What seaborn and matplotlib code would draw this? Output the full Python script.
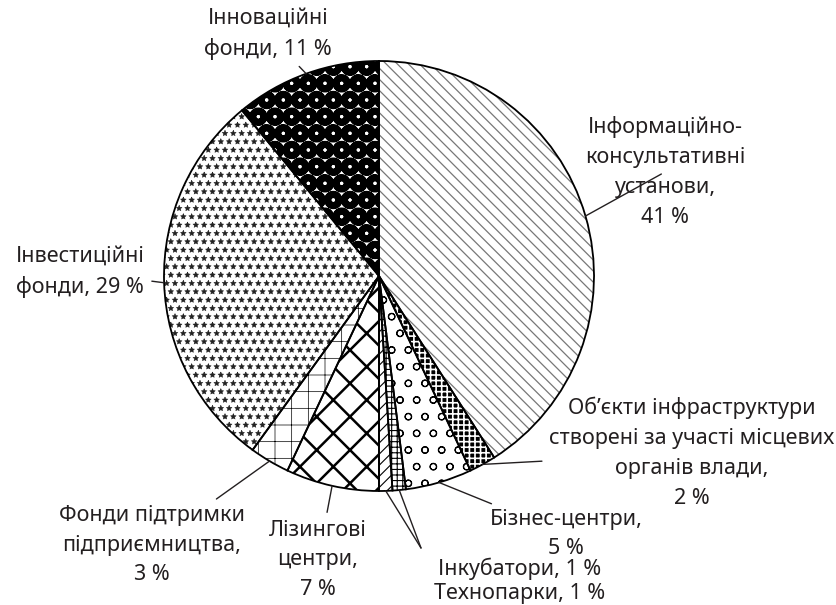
import numpy as np
import matplotlib
matplotlib.use("Agg")
import matplotlib.pyplot as plt
import seaborn as sns

# Pie data, clockwise from 12 o'clock
labels = [
    "Інформаційно-\nконсультативні\nустанови,\n41 %",
    "Об’єкти інфраструктури\nстворені за участі місцевих\nорганів влади,\n2 %",
    "Бізнес-центри,\n5 %",
    "Інкубатори, 1 %",
    "Технопарки, 1 %",
    "Лізингові\nцентри,\n7 %",
    "Фонди підтримки\nпідприємництва,\n3 %",
    "Інвестиційні\nфонди, 29 %",
    "Інноваційні\nфонди, 11 %",
]
shares = [41, 2, 5, 1, 1, 7, 3, 29, 11]

# Styling per slice: face, hatch colour, hatch pattern, hatch width
faces = ["white", "black", "white", "white", "white", "white", "white", "white", "white"]
hatch_cols = ["#777777", "white", "black", "black", "black", "black", "black", "#222222", "black"]
hatches = ["\\\\\\", "+++", "o", "+++", "///", "x", "+", "**", "O"]
hatch_lw = [0.9, 1.2, 0.8, 0.8, 0.8, 1.8, 0.5, 0.4, 4.8]

# label text positions (pixel coords, top-left origin)
text_xy = [(665, 172), (692, 453), (566, 534), (520, 569), (520, 593),
           (318, 560), (152, 545), (80, 272), (268, 34)]
# where the two 1 % leaders meet
join_xy = (421, 548)

sns.set_theme(style="white")
plt.rcParams["font.family"] = ["Noto Sans", "DejaVu Sans"]

W, H = 836, 605
fig = plt.figure(figsize=(W / 100, H / 100), dpi=100)
ax = fig.add_axes([0, 0, 1, 1])

cx, cy, r = 379, H - 276, 215

wedges, _ = ax.pie(shares, startangle=90, counterclock=False,
                   center=(cx, cy), radius=r, frame=True)
for w, fc, hc, h, lw in zip(wedges, faces, hatch_cols, hatches, hatch_lw):
    w.set_facecolor(fc)
    w.set_edgecolor(hc)
    w.set_linewidth(0)
    w.set_hatch(h)
    w.set_hatch_linewidth(lw)

# outlines on top
outl, _ = ax.pie(shares, startangle=90, counterclock=False, center=(cx, cy),
                 radius=r, frame=True,
                 wedgeprops=dict(fill=False, edgecolor="black", linewidth=1.3))

ax.set_xlim(0, W)
ax.set_ylim(0, H)
ax.set_aspect("equal")
ax.axis("off")

txt = dict(ha="center", va="center", fontsize=15.5, linespacing=1.55, color="#231f20")
line = dict(arrowstyle="-", color="#231f20", lw=1.0, shrinkA=3, shrinkB=0)

for i, (w, lab, (tx, ty)) in enumerate(zip(wedges, labels, text_xy)):
    mid = np.deg2rad((w.theta1 + w.theta2) / 2)
    px = cx + r * np.cos(mid)
    py = cy + r * np.sin(mid)
    if i in (3, 4):
        ax.annotate("", xy=(px, py), xytext=(join_xy[0], H - join_xy[1]),
                    arrowprops=dict(line, shrinkA=0))
        ax.text(tx, H - ty, lab, **txt)
    else:
        ax.annotate(lab, xy=(px, py), xytext=(tx, H - ty), arrowprops=line, **txt)

fig.savefig("out.png", dpi=100)
